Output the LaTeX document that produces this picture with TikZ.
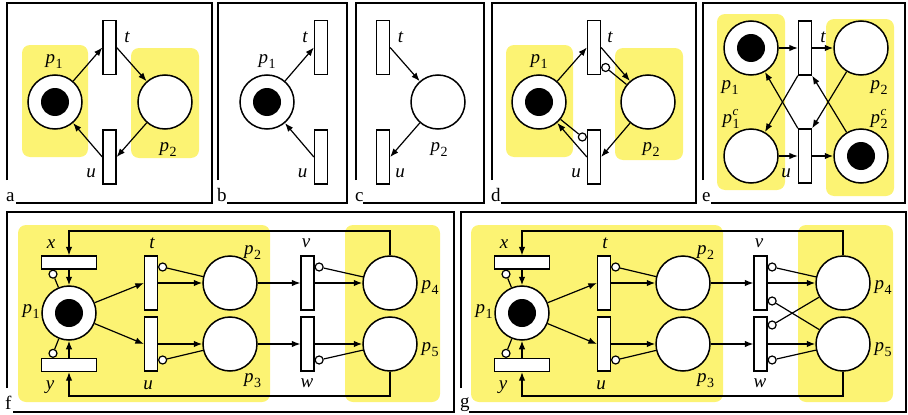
\documentclass[tikz,border=0pt]{standalone}
\usepackage{fontspec}
\setmainfont{Liberation Serif}
\usetikzlibrary{arrows.meta,calc}
\definecolor{hl}{RGB}{252,243,115}
\newcommand{\placelab}[1]{p\kern0.5pt\raisebox{-5pt}{\upshape\fontsize{14}{14}\selectfont #1}}
\newcommand{\placelabc}[1]{p\kern0.5pt\rlap{\raisebox{8.5pt}{\fontsize{13}{13}\selectfont c}}\raisebox{-5pt}{\upshape\fontsize{14}{14}\selectfont #1}}
\tikzset{
 place/.style={circle, draw, line width=1.5pt, minimum size=54pt, inner sep=0pt, fill=white},
 token/.style={circle, fill=black, minimum size=28pt, inner sep=0pt},
 vtrans/.style={rectangle, draw, line width=1.3pt, minimum width=13pt, minimum height=54pt, inner sep=0pt, fill=white},
 htrans/.style={rectangle, draw, line width=1.3pt, minimum width=55pt, minimum height=13pt, inner sep=0pt, fill=white},
 inhib/.style={circle, draw, line width=1.2pt, minimum size=8pt, inner sep=0pt, fill=white},
 arc/.style={line width=1.2pt, -{Latex[length=8.5pt,width=6.5pt]}},
 plainline/.style={line width=1.2pt},
 region/.style={fill=hl, rounded corners=8pt},
 frame/.style={line width=1.8pt},
 lbl/.style={font=\fontsize{19}{19}\selectfont\itshape, inner sep=0pt},
 panel/.style={font=\fontsize{19}{19}\selectfont, inner sep=0pt, anchor=base west}
}
\begin{document}
\begin{tikzpicture}[x=1pt,y=-1pt]
\useasboundingbox (0,0) rectangle (908,415);

% ---------------- panel a
\fill[region] (22,45) rectangle (88,157);
\fill[region] (131,48) rectangle (199,158);
\node[place] (ap1) at (55,102) {}; \node[token] (ap1t) at (ap1) {};
\node[place] (ap2) at (165,102) {};
\node[vtrans] (at) at (109.5,47.5) {};
\node[vtrans] (au) at (109.5,157) {};
\draw[arc] (ap1) -- (at.west);
\draw[arc] (at.east) -- (ap2);
\draw[arc] (ap2) -- (au.east);
\draw[arc] (au.west) -- (ap1);
\node[lbl] (atl) at (127,37) {t};
\node[lbl] (aul) at (91,173) {u};
\node[lbl] (ap1l) at (54,62) {\placelab{1}};
\node[lbl] (ap2l) at (168,150) {\placelab{2}};
\node[panel] (la) at (6,201) {a};
\draw[frame] (7,180) -- (7,3) -- (212,3) -- (212,203) -- (16,203);

% ---------------- panel b
\node[place] (bp1) at (267,102) {}; \node[token] (bp1t) at (bp1) {};
\node[vtrans] (bt) at (321,47.5) {};
\node[vtrans] (bu) at (321,157) {};
\draw[arc] (bp1) -- (bt.west);
\draw[arc] (bu.west) -- (bp1);
\node[lbl] (btl) at (305,37) {t};
\node[lbl] (bul) at (302.5,173) {u};
\node[lbl] (bp1l) at (267,62) {\placelab{1}};
\node[panel] (lb) at (217,201) {b};
\draw[frame] (218,180) -- (218,3) -- (347,3) -- (347,203) -- (227,203);

% ---------------- panel c
\node[place] (cp2) at (438,102) {};
\node[vtrans] (ct) at (383,47.5) {};
\node[vtrans] (cu) at (383,157) {};
\draw[arc] (ct.east) -- (cp2);
\draw[arc] (cp2) -- (cu.east);
\node[lbl] (ctl) at (400.5,37) {t};
\node[lbl] (cul) at (400,173) {u};
\node[lbl] (cp2l) at (439,150) {\placelab{2}};
\node[panel] (lc) at (355,201) {c};
\draw[frame] (356,180) -- (356,3) -- (484,3) -- (484,203) -- (363,203);

% ---------------- panel d
\fill[region] (506,45) rectangle (573,157);
\fill[region] (615,48) rectangle (683,160);
\node[place] (dp1) at (539,102) {}; \node[token] (dp1t) at (dp1) {};
\node[place] (dp2) at (648,102) {};
\node[vtrans] (dt) at (594,47.5) {};
\node[vtrans] (du) at (594,157) {};
\draw[arc] (dp1) -- (dt.west);
\draw[arc] (dt.east) -- (dp2);
\draw[arc] (dp2) -- (du.east);
\draw[arc] (du.west) -- (dp1);
\node[inhib] (dti) at ($(dt.east)+(4.5,20)$) {};
\draw[plainline] (dp2) -- (dti);
\node[inhib] (dui) at ($(du.west)+(-4.5,-20)$) {};
\draw[plainline] (dp1) -- (dui);
\node[lbl] (dtl) at (610,37) {t};
\node[lbl] (dul) at (576,173) {u};
\node[lbl] (dp1l) at (539,62) {\placelab{1}};
\node[lbl] (dp2l) at (651,150) {\placelab{2}};
\node[panel] (ld) at (491,201) {d};
\draw[frame] (492,180) -- (492,3) -- (696,3) -- (696,203) -- (501,203);

% ---------------- panel e
\fill[region] (717,14) rectangle (785,190);
\fill[region] (826,19) rectangle (894,196);
\node[place] (ep1) at (751,48) {}; \node[token] (ep1t) at (ep1) {};
\node[place] (ep1c) at (751,156) {};
\node[place] (ep2) at (861,48) {};
\node[place] (ep2c) at (861,156) {}; \node[token] (ep2ct) at (ep2c) {};
\node[vtrans] (et) at (805,48) {};
\node[vtrans] (eu) at (805,156) {};
\draw[arc] (ep1) -- (et);
\draw[arc] (et) -- (ep2);
\draw[arc] (ep1c) -- (eu);
\draw[arc] (eu) -- (ep2c);
\draw[arc] (et.south west) -- (ep1c);
\draw[arc] (eu.north west) -- (ep1);
\draw[arc] (ep2c) -- (et.south east);
\draw[arc] (ep2) -- (eu.north east);
\node[lbl] (etl) at (823,37) {t};
\node[lbl] (eul) at (786,173) {u};
\node[lbl] (ep1l) at (730,88) {\placelab{1}};
\node[lbl] (ep1cl) at (731,119) {\placelabc{1}};
\node[lbl] (ep2l) at (879,88) {\placelab{2}};
\node[lbl] (ep2cl) at (879,119) {\placelabc{2}};
\node[panel] (le) at (702,201) {e};
\draw[frame] (703,180) -- (703,3) -- (905,3) -- (905,203) -- (711,203);

% ---------------- panels f and g
\foreach \dx/\pn in {0/f,453/g}{
 \fill[region] (\dx+18,225) rectangle (\dx+270,402);
 \fill[region] (\dx+345,225) rectangle (\dx+440,402);
 \node[htrans] (\pn x) at (\dx+69,262.5) {};
 \node[htrans] (\pn y) at (\dx+69,365) {};
 \node[place] (\pn p1) at (\dx+69,313) {}; \node[token] (\pn p1t) at (\pn p1) {};
 \node[vtrans] (\pn t) at (\dx+151,283) {};
 \node[vtrans] (\pn u) at (\dx+151,344) {};
 \node[place] (\pn p2) at (\dx+230,283) {};
 \node[place] (\pn p3) at (\dx+230,344) {};
 \node[vtrans] (\pn v) at (\dx+307.5,283) {};
 \node[vtrans] (\pn w) at (\dx+307.5,344) {};
 \node[place] (\pn p4) at (\dx+390,283) {};
 \node[place] (\pn p5) at (\dx+390,344) {};
 \coordinate (\pn top) at (\dx+69,231);
 \coordinate (\pn bot) at (\dx+69,396);
 \draw[arc] (\pn p4.north) |- (\pn top) -- (\pn x.north);
 \draw[arc] (\pn p5.south) |- (\pn bot) -- (\pn y.south);
 \draw[arc] (\pn x.south) -- (\pn p1.north);
 \draw[arc] (\pn y.north) -- (\pn p1.south);
 \node[inhib] (\pn xi) at ($(\pn x.south)+(-16,4.5)$) {};
 \draw[plainline] (\pn p1) -- (\pn xi);
 \node[inhib] (\pn yi) at ($(\pn y.north)+(-16,-4.5)$) {};
 \draw[plainline] (\pn p1) -- (\pn yi);
 \draw[arc] (\pn p1) -- (\pn t.west);
 \draw[arc] (\pn p1) -- (\pn u.west);
 \draw[arc] (\pn t) -- (\pn p2);
 \draw[arc] (\pn u) -- (\pn p3);
 \node[inhib] (\pn ti) at ($(\pn t.east)+(4.5,-16)$) {};
 \draw[plainline] (\pn p2) -- (\pn ti);
 \node[inhib] (\pn ui) at ($(\pn u.east)+(4.5,16)$) {};
 \draw[plainline] (\pn p3) -- (\pn ui);
 \draw[arc] (\pn p2) -- (\pn v);
 \draw[arc] (\pn v) -- (\pn p4);
 \node[inhib] (\pn vi) at ($(\pn v.east)+(4.5,-16)$) {};
 \draw[plainline] (\pn p4) -- (\pn vi);
 \draw[arc] (\pn p3) -- (\pn w);
 \draw[arc] (\pn w) -- (\pn p5);
 \node[inhib] (\pn wi) at ($(\pn w.east)+(4.5,16)$) {};
 \draw[plainline] (\pn p5) -- (\pn wi);
 \node[lbl] (\pn lx) at (\dx+51,244) {x};
 \node[lbl] (\pn ly) at (\dx+50,387) {y};
 \node[lbl] (\pn lp1) at (\dx+31,312) {\placelab{1}};
 \node[lbl] (\pn lt) at (\dx+152,243) {t};
 \node[lbl] (\pn lu) at (\dx+148,385) {u};
 \node[lbl] (\pn lp2) at (\dx+252.5,252.5) {\placelab{2}};
 \node[lbl] (\pn lp3) at (\dx+252.5,381) {\placelab{3}};
 \node[lbl] (\pn lv) at (\dx+306,243) {v};
 \node[lbl] (\pn lw) at (\dx+307,383) {w};
 \node[lbl] (\pn lp4) at (\dx+430,288) {\placelab{4}};
 \node[lbl] (\pn lp5) at (\dx+430,350) {\placelab{5}};
}
\node[inhib] (gvi2) at ($(gv.east)+(4.5,18)$) {};
\draw[plainline] (gp5) -- (gvi2);
\node[inhib] (gwi2) at ($(gw.east)+(4.5,-19)$) {};
\draw[plainline] (gp4) -- (gwi2);

\node[panel] (lf) at (5,409) {f};
\draw[frame] (7,388) -- (7,212) -- (454,212) -- (454,412) -- (13,412);
\node[panel] (lg) at (460,407) {g};
\draw[frame] (461,388) -- (461,212) -- (906,212) -- (906,412) -- (469,412);
\end{tikzpicture}
\end{document}
